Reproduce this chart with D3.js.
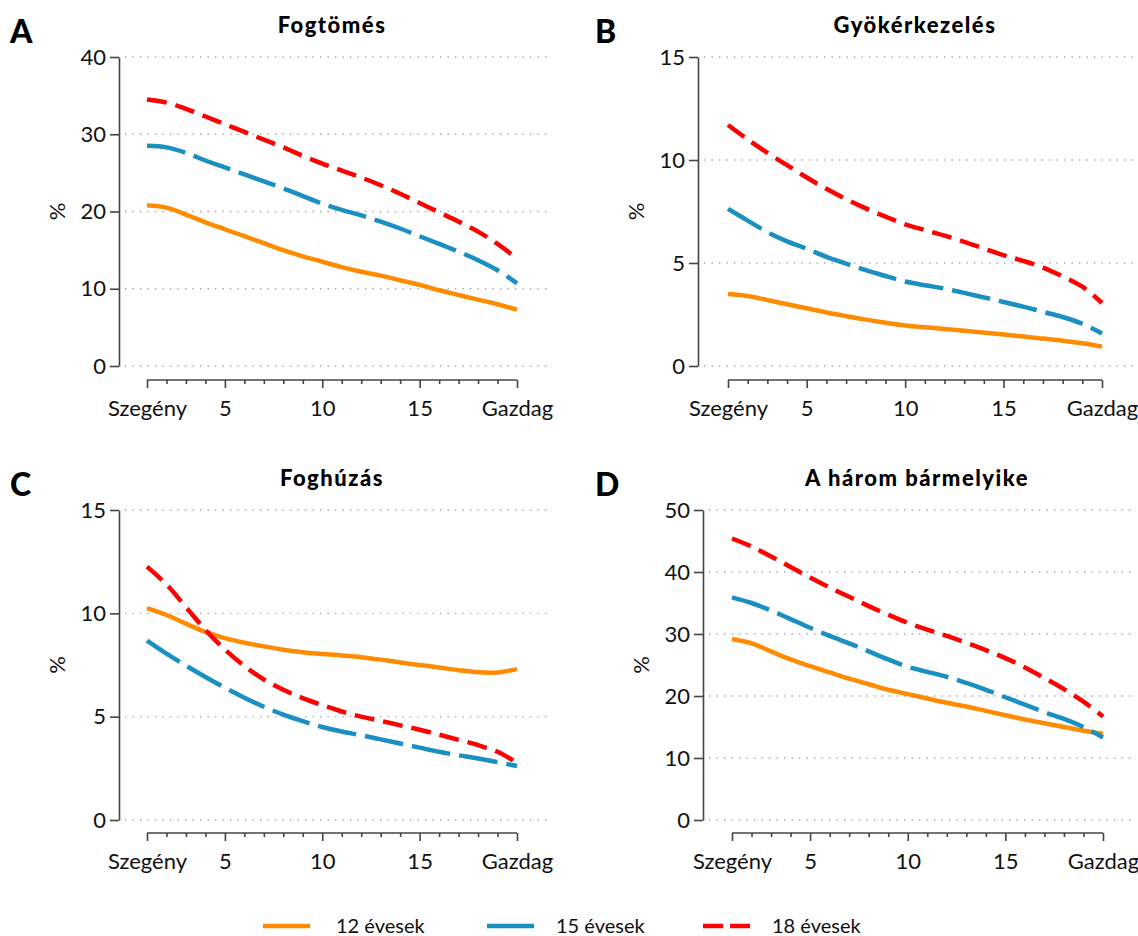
<!DOCTYPE html>
<html>
<head>
<meta charset="utf-8">
<script src="https://cdn.jsdelivr.net/npm/d3@7"></script>
<style>
  html, body { margin: 0; padding: 0; background: #fff; }
  svg { display: block; font-family: Lato, "Open Sans", sans-serif; }
</style>
</head>
<body>
<svg id="chart" width="1138" height="936"></svg>
<script>
// ---- data ----
const xValues = [1,2,3,4,5,6,7,8,9,10,11,12,13,14,15,16,17,18,19,20];
const xTickLabels = ["Szegény", "5", "10", "15", "Gazdag"];
const xTickLabelPositions = [1, 5, 10, 15, 20];
const seriesNames = ["12 évesek", "15 évesek", "18 évesek"];
const panelTitles = ["Fogtömés", "Gyökérkezelés", "Foghúzás", "A három bármelyike"];
const panelLetters = ["A", "B", "C", "D"];
const yTicksA = [0, 10, 20, 30, 40];
const yTicksB = [0, 5, 10, 15];
const yTicksC = [0, 5, 10, 15];
const yTicksD = [0, 10, 20, 30, 40, 50];

const fogtomes12 = [20.8, 20.5, 19.6, 18.6, 17.7, 16.8, 15.9, 15.0, 14.2, 13.5, 12.8, 12.2, 11.7, 11.1, 10.5, 9.8, 9.2, 8.6, 8.0, 7.3];
const fogtomes15 = [28.5, 28.3, 27.6, 26.6, 25.7, 24.8, 23.9, 23.0, 22.0, 21.0, 20.2, 19.5, 18.7, 17.8, 16.8, 15.8, 14.8, 13.7, 12.4, 10.7];
const fogtomes18 = [34.5, 34.1, 33.3, 32.3, 31.3, 30.3, 29.3, 28.3, 27.2, 26.2, 25.3, 24.4, 23.4, 22.3, 21.1, 19.9, 18.7, 17.4, 15.8, 13.9];

const gyoker12 = [3.5, 3.4, 3.2, 3.0, 2.8, 2.6, 2.42, 2.25, 2.1, 1.97, 1.88, 1.8, 1.71, 1.62, 1.53, 1.43, 1.33, 1.23, 1.1, 0.94];
const gyoker15 = [7.63, 7.06, 6.5, 6.05, 5.69, 5.3, 4.97, 4.65, 4.37, 4.1, 3.92, 3.76, 3.55, 3.33, 3.11, 2.88, 2.63, 2.38, 2.05, 1.58];
const gyoker18 = [11.7, 11.0, 10.35, 9.75, 9.15, 8.6, 8.1, 7.65, 7.25, 6.88, 6.6, 6.33, 6.03, 5.7, 5.38, 5.1, 4.78, 4.35, 3.85, 3.06];

const foghuzas12 = [10.25, 9.92, 9.5, 9.1, 8.8, 8.58, 8.4, 8.24, 8.12, 8.03, 7.96, 7.88, 7.76, 7.62, 7.5, 7.38, 7.25, 7.15, 7.14, 7.3];
const foghuzas15 = [8.68, 8.05, 7.47, 6.92, 6.4, 5.92, 5.48, 5.1, 4.78, 4.5, 4.28, 4.1, 3.9, 3.7, 3.5, 3.3, 3.13, 2.98, 2.8, 2.61];
const foghuzas18 = [12.26, 11.4, 10.3, 9.2, 8.25, 7.45, 6.8, 6.3, 5.9, 5.56, 5.25, 5.0, 4.8, 4.58, 4.37, 4.13, 3.88, 3.62, 3.3, 2.77];

const barmely12 = [29.2, 28.5, 27.2, 25.9, 24.8, 23.8, 22.8, 21.9, 21.0, 20.3, 19.6, 18.9, 18.3, 17.6, 16.9, 16.2, 15.6, 15.0, 14.4, 13.9];
const barmely15 = [35.9, 35.0, 33.8, 32.4, 31.0, 29.7, 28.5, 27.2, 25.9, 24.7, 23.9, 23.1, 22.1, 21.0, 19.8, 18.6, 17.4, 16.3, 15.0, 13.3];
const barmely18 = [45.4, 44.1, 42.5, 40.8, 39.1, 37.5, 36.0, 34.5, 33.1, 31.8, 30.7, 29.7, 28.6, 27.4, 26.1, 24.6, 22.9, 21.1, 19.1, 16.7];

// ---- styles ----
const colors = ["#ff8c00", "#1a8fc1", "#ff0000"];
const dashes = [null, "39,9", "20,9"];
const FONT = 22;

const panels = [
  { yAxisX: 119, top: 57, bottom: 366, x0: 147, x1: 517, xAxisY: 380, gridEnd: 548, letterX: 10,  titleX: 332, yTicks: yTicksA, series: [fogtomes12, fogtomes15, fogtomes18] },
  { yAxisX: 698, top: 57, bottom: 366, x0: 728, x1: 1102, xAxisY: 380, gridEnd: 1136, letterX: 595, titleX: 915, yTicks: yTicksB, series: [gyoker12, gyoker15, gyoker18] },
  { yAxisX: 119, top: 510, bottom: 820, x0: 147, x1: 517, xAxisY: 833, gridEnd: 548, letterX: 10,  titleX: 332, yTicks: yTicksC, series: [foghuzas12, foghuzas15, foghuzas18] },
  { yAxisX: 703, top: 510, bottom: 820, x0: 732, x1: 1103, xAxisY: 833, gridEnd: 1136, letterX: 595, titleX: 917, yTicks: yTicksD, series: [barmely12, barmely15, barmely18] }
];

const svg = d3.select("#chart");

panels.forEach((p, i) => {
  const g = svg.append("g");
  const yMax = d3.max(p.yTicks);
  const y = d3.scaleLinear().domain([0, yMax]).range([p.bottom, p.top]);
  const x = d3.scaleLinear().domain([1, 20]).range([p.x0, p.x1]);

  // letter
  g.append("text")
    .attr("x", p.letterX).attr("y", p.top - 14)
    .attr("font-size", 32).attr("font-weight", 900)
    .attr("fill", "#000")
    .text(panelLetters[i]);

  // title
  g.append("text")
    .attr("x", p.titleX).attr("y", p.top - 24)
    .attr("text-anchor", "middle")
    .attr("font-size", 22).attr("font-weight", 900)
    .attr("letter-spacing", 1.5)
    .attr("fill", "#000")
    .text(panelTitles[i]);

  // gridlines
  g.append("g").selectAll("line").data(p.yTicks).join("line")
    .attr("x1", p.yAxisX + 6).attr("x2", p.gridEnd)
    .attr("y1", d => y(d)).attr("y2", d => y(d))
    .attr("stroke", "#a0a0a0").attr("stroke-width", 1.3)
    .attr("stroke-dasharray", "1.3,6.2");

  // y axis
  const yAxis = g.append("g")
    .attr("transform", `translate(${p.yAxisX},0)`)
    .call(d3.axisLeft(y).tickValues(p.yTicks).tickSize(9).tickPadding(4).tickSizeOuter(0));
  yAxis.select(".domain").attr("stroke", "#444").attr("stroke-width", 1.6);
  yAxis.selectAll(".tick line").attr("stroke", "#444").attr("stroke-width", 1.6);
  yAxis.selectAll(".tick text").attr("font-size", FONT).attr("fill", "#111")
    .attr("font-family", "Lato, sans-serif");

  // % label
  g.append("text")
    .attr("transform", `translate(${p.yAxisX - 62},${(p.top + p.bottom) / 2}) rotate(-90)`)
    .attr("text-anchor", "middle").attr("dy", "0.35em")
    .attr("font-size", FONT).attr("fill", "#111")
    .text("%");

  // x axis
  const xAxis = g.append("g")
    .attr("transform", `translate(0,${p.xAxisY})`)
    .call(d3.axisBottom(x).tickValues(xValues).tickSizeOuter(0)
      .tickFormat(d => {
        const k = xTickLabelPositions.indexOf(d);
        return k >= 0 ? xTickLabels[k] : "";
      }));
  xAxis.select(".domain").attr("stroke", "#444").attr("stroke-width", 1.6)
    .attr("d", `M${p.x0},0H${p.x1}`);
  xAxis.selectAll(".tick line")
    .attr("stroke", "#444").attr("stroke-width", 1.6)
    .attr("y2", d => xTickLabelPositions.includes(d) ? 8 : 4);
  xAxis.selectAll(".tick text")
    .attr("y", 28).attr("dy", "0.35em")
    .attr("font-size", FONT).attr("fill", "#111")
    .attr("font-family", "Lato, sans-serif");

  // lines
  const line = d3.line()
    .x((d, j) => x(xValues[j]))
    .y(d => y(d))
    .curve(d3.curveCatmullRom.alpha(0.5));

  [0, 1, 2].forEach(s => {
    g.append("path")
      .datum(p.series[s])
      .attr("d", line)
      .attr("fill", "none")
      .attr("stroke", colors[s])
      .attr("stroke-width", 4.5)
      .attr("stroke-dasharray", dashes[s])
      .attr("stroke-linecap", "butt");
  });
});

// legend
const legendItems = [
  { lx: 263, tx: 336 },
  { lx: 487, tx: 556 },
  { lx: 703, tx: 772 }
];
const leg = svg.append("g");
legendItems.forEach((it, s) => {
  leg.append("line")
    .attr("x1", it.lx).attr("x2", it.lx + 47)
    .attr("y1", 926).attr("y2", 926)
    .attr("stroke", colors[s]).attr("stroke-width", 4.5)
    .attr("stroke-dasharray", s === 2 ? "20,7" : null);
  leg.append("text")
    .attr("x", it.tx).attr("y", 926).attr("dy", "0.35em")
    .attr("font-size", 20).attr("fill", "#111")
    .text(seriesNames[s]);
});
</script>
</body>
</html>
